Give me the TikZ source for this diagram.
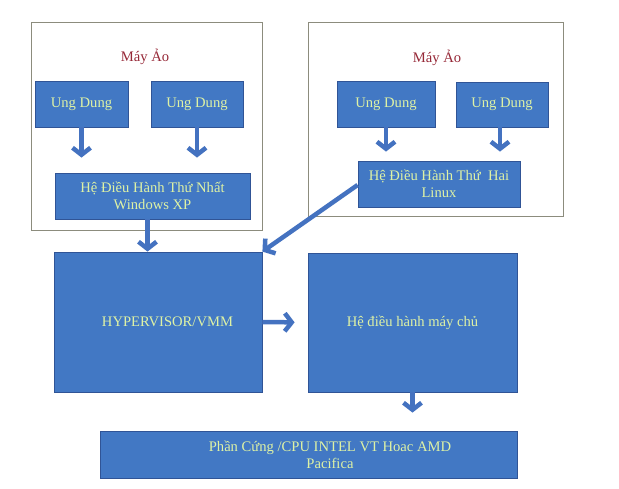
\documentclass[tikz,border=0pt]{standalone}
\usepackage{fontspec}
\setmainfont{Liberation Serif}
\usepackage{tikz}
\usetikzlibrary{shapes,arrows.meta}

\definecolor{boxblue}{RGB}{66,120,196}
\definecolor{boxedge}{RGB}{48,84,150}
\definecolor{arrblue}{RGB}{68,114,192}
\definecolor{txtgreen}{RGB}{222,242,165}
\definecolor{vmred}{RGB}{150,40,55}
\definecolor{vmedge}{RGB}{140,140,125}

\tikzset{
  vmbox/.style={draw=vmedge, line width=0.8pt, fill=white, inner sep=0pt},
  bluebox/.style={draw=boxedge, line width=0.8pt, fill=boxblue, inner sep=0pt,
    text=txtgreen, align=center, font=\fontsize{14.6}{17}\selectfont},
  vmtitle/.style={text=vmred, font=\fontsize{14.6}{17}\selectfont},
  boxtext/.style={text=txtgreen, align=center, font=\fontsize{14.6}{17}\selectfont},
  arr/.style={draw=arrblue, line width=4.5pt, -{Straight Barb[length=7pt,width=18pt]}}
}

\begin{document}
\begin{tikzpicture}[x=1pt,y=-1pt]
  \useasboundingbox (0,0) rectangle (619,488);

  % may ao 1
  \node[vmbox, minimum width=231pt, minimum height=208pt] (vm1) at (146.5,126) {};
  \node[vmtitle] (title1) at (145,57) {Máy Ảo};
  \node[bluebox, minimum width=93pt, minimum height=46pt] (ud1) at (81.5,104) {Ung Dung};
  \node[bluebox, minimum width=92pt, minimum height=46pt] (ud2) at (197,104) {Ung Dung};
  \node[bluebox, minimum width=195pt, minimum height=46pt] (os1) at (152.5,196) {Hệ Điều Hành Thứ Nhất\\Windows XP};

  % may ao 2
  \node[vmbox, minimum width=255pt, minimum height=194pt] (vm2) at (435.5,119) {};
  \node[vmtitle] (title2) at (437,58) {Máy Ảo};
  \node[bluebox, minimum width=98pt, minimum height=46pt] (ud3) at (386,104) {Ung Dung};
  \node[bluebox, minimum width=92pt, minimum height=45pt] (ud4) at (502,104.5) {Ung Dung};
  \node[bluebox, minimum width=162pt, minimum height=46pt] (os2) at (439,184) {Hệ Điều Hành Thứ\ \ Hai\\Linux};

  % hypervisor, host, hardware
  \node[bluebox, minimum width=208pt, minimum height=140pt] (hyper) at (158,322) {};
  \node[boxtext] (hypertext) at (167.5,322) {HYPERVISOR/VMM};
  \node[bluebox, minimum width=209pt, minimum height=139pt] (host) at (412.5,322.5) {Hệ điều hành máy chủ};
  \node[bluebox, minimum width=417pt, minimum height=47pt] (hw) at (308.5,454.5) {};
  \node[boxtext] (hwtext) at (330,454.5) {Phần Cứng /CPU INTEL VT Hoac AMD\\Pacifica};

  % mui ten
  \draw[arr, shorten >=15pt] (ud1.south) -- (ud1.south |- os1.north);
  \draw[arr, shorten >=15pt] (ud2.south) -- (ud2.south |- os1.north);
  \draw[arr, shorten >=9pt] (ud3.south) -- (ud3.south |- os2.north);
  \draw[arr, shorten >=9pt] ([xshift=-2pt]ud4.south) -- ([xshift=-2pt]ud4.south |- os2.north);
  \draw[arr] ([xshift=-5pt]os1.south) -- ([xshift=-5pt]os1.south |- hyper.north);
  \draw[arr] ([yshift=-1pt]os2.west) -- (hyper.north east);
  \draw[arr, shorten >=13pt] (hyper.east) -- (host.west);
  \draw[arr, shorten >=18pt] (host.south) -- (host.south |- hw.north);
\end{tikzpicture}
\end{document}
